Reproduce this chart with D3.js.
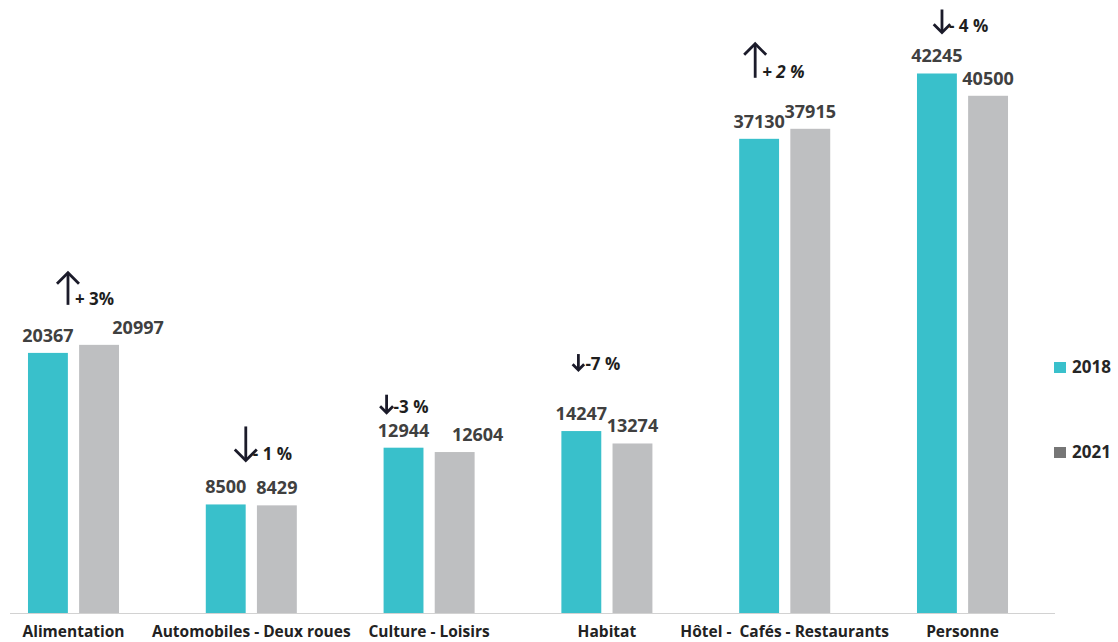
<!DOCTYPE html>
<html lang="fr">
  <head>
    <meta charset="UTF-8">
    <title>CA par secteur 2018 / 2021</title>
    <style>
    * {
      box-sizing: border-box;
      margin: 0;
      padding: 0;
    }

    body {
      background: #fff;
    }

    svg {
      display: block;
      font-family: "Open Sans", sans-serif;
      font-weight: 700;
    }

    .value {
      fill: #404040;
      font-size: 18px;
    }

    .cat text {
      fill: #222;
      font-size: 15.5px;
      font-weight: 700;
      font-family: "Open Sans", sans-serif;
      white-space: pre;
    }

    .note text {
      fill: #1e1e1e;
      font-size: 17px;
    }

    .note path {
      fill: none;
      stroke: #1b1b2a;
      stroke-width: 2.8px;
    }

    .legend text {
      fill: #262626;
      font-size: 17px;
    }
    </style>
  </head>
  <body>
    <svg width="1118" height="642"></svg>
    <script src="https://d3js.org/d3.v7.min.js"></script>
    <script>
      const categories = ["Alimentation", "Automobiles - Deux roues", "Culture - Loisirs", "Habitat", "Hôtel -  Cafés - Restaurants", "Personne"];
      const series = ["2018", "2021"];
      const values2018 = [20367, 8500, 12944, 14247, 37130, 42245];
      const values2021 = [20997, 8429, 12604, 13274, 37915, 40500];
      const changeLabels = ["+ 3%", "- 1 %", "-3 %", "-7 %", "+ 2 %", "- 4 %"];

      const barColors = ["#39c0cb", "#bebfc1"];
      const legendColors = ["#39c0cb", "#767676"];

      // hand placement of the annotations, like in the original slide
      const labelShift2021 = [39, 0, 23, 0, 0, 0];
      const noteLayout = [
        { dx: 40, dy: 40, len: 32 },
        { dx: 40, dy: 44, len: 34 },
        { dx: 3, dy: 35, len: 18 },
        { dx: 17, dy: 61, len: 16 },
        { dx: 16, dy: 51, len: 34, italic: true },
        { dx: 25, dy: 41, len: 23 }
      ];

      const rows = categories.map((c, i) => ({
        cat: c,
        i: i,
        vals: [values2018[i], values2021[i]]
      }));

      const svg = d3.select("svg");
      const baseY = 613;

      const x0 = d3.scaleBand()
        .domain(categories)
        .range([-15.4, 1051.4])
        .paddingInner(0.488)
        .paddingOuter(0.244);

      const x1 = d3.scaleBand()
        .domain(series)
        .range([0, x0.bandwidth()])
        .paddingInner(0.22);

      const y = d3.scaleLinear()
        .domain([0, 48000])
        .range([baseY, 0]);

      // baseline
      svg.append("line")
        .attr("x1", 10).attr("x2", 1055)
        .attr("y1", baseY + 0.5).attr("y2", baseY + 0.5)
        .attr("stroke", "#d2d2d2")
        .attr("stroke-width", 1.2);

      const groups = svg.selectAll(".group")
        .data(rows)
        .enter().append("g")
        .attr("class", "group")
        .attr("transform", d => `translate(${x0(d.cat)},0)`);

      groups.selectAll("rect")
        .data(d => d.vals.map((v, k) => ({ v: v, k: k, i: d.i })))
        .enter().append("rect")
        .attr("x", d => x1(series[d.k]))
        .attr("y", d => y(d.v))
        .attr("width", x1.bandwidth())
        .attr("height", d => baseY - y(d.v))
        .attr("fill", d => barColors[d.k]);

      groups.selectAll(".value")
        .data(d => d.vals.map((v, k) => ({ v: v, k: k, i: d.i })))
        .enter().append("text")
        .attr("class", "value")
        .attr("text-anchor", "middle")
        .attr("x", d => x1(series[d.k]) + x1.bandwidth() / 2 + (d.k === 1 ? labelShift2021[d.i] : 0))
        .attr("y", d => y(d.v) - 11)
        .text(d => d.v);

      // category axis
      const axis = svg.append("g")
        .attr("class", "cat")
        .attr("transform", `translate(0,${baseY})`)
        .call(d3.axisBottom(x0).tickSize(0));
      axis.select(".domain").remove();
      axis.selectAll("text")
        .attr("y", 24)
        .attr("dy", null)
        .attr("xml:space", "preserve");

      // evolution arrows
      const notes = svg.selectAll(".note")
        .data(rows)
        .enter().append("g")
        .attr("class", "note");

      notes.each(function(d) {
        const g = d3.select(this);
        const lay = noteLayout[d.i];
        const up = d.vals[1] > d.vals[0];
        const ax = x0(d.cat) + lay.dx;
        const bottom = y(d3.max(d.vals)) - lay.dy;
        const top = bottom - lay.len;
        const hw = Math.min(11, lay.len * 0.36);
        const head = up
          ? `M${ax - hw},${top + hw} L${ax},${top} L${ax + hw},${top + hw}`
          : `M${ax - hw},${bottom - hw} L${ax},${bottom} L${ax + hw},${bottom - hw}`;

        g.append("path")
          .attr("d", `M${ax},${up ? bottom : top} L${ax},${up ? top + 1 : bottom - 1}`);
        g.append("path")
          .attr("d", head)
          .style("stroke-linejoin", "miter");

        g.append("text")
          .attr("x", ax + 7)
          .attr("y", bottom)
          .style("font-style", lay.italic ? "italic" : "normal")
          .text(changeLabels[d.i]);
      });

      // legend
      const legend = svg.append("g").attr("class", "legend");
      const legendY = [362, 447];
      series.forEach((s, k) => {
        legend.append("rect")
          .attr("x", 1054)
          .attr("y", legendY[k])
          .attr("width", 12)
          .attr("height", 11)
          .attr("fill", legendColors[k]);
        legend.append("text")
          .attr("x", 1072)
          .attr("y", legendY[k] + 11)
          .text(s);
      });
    </script>
  </body>
</html>
